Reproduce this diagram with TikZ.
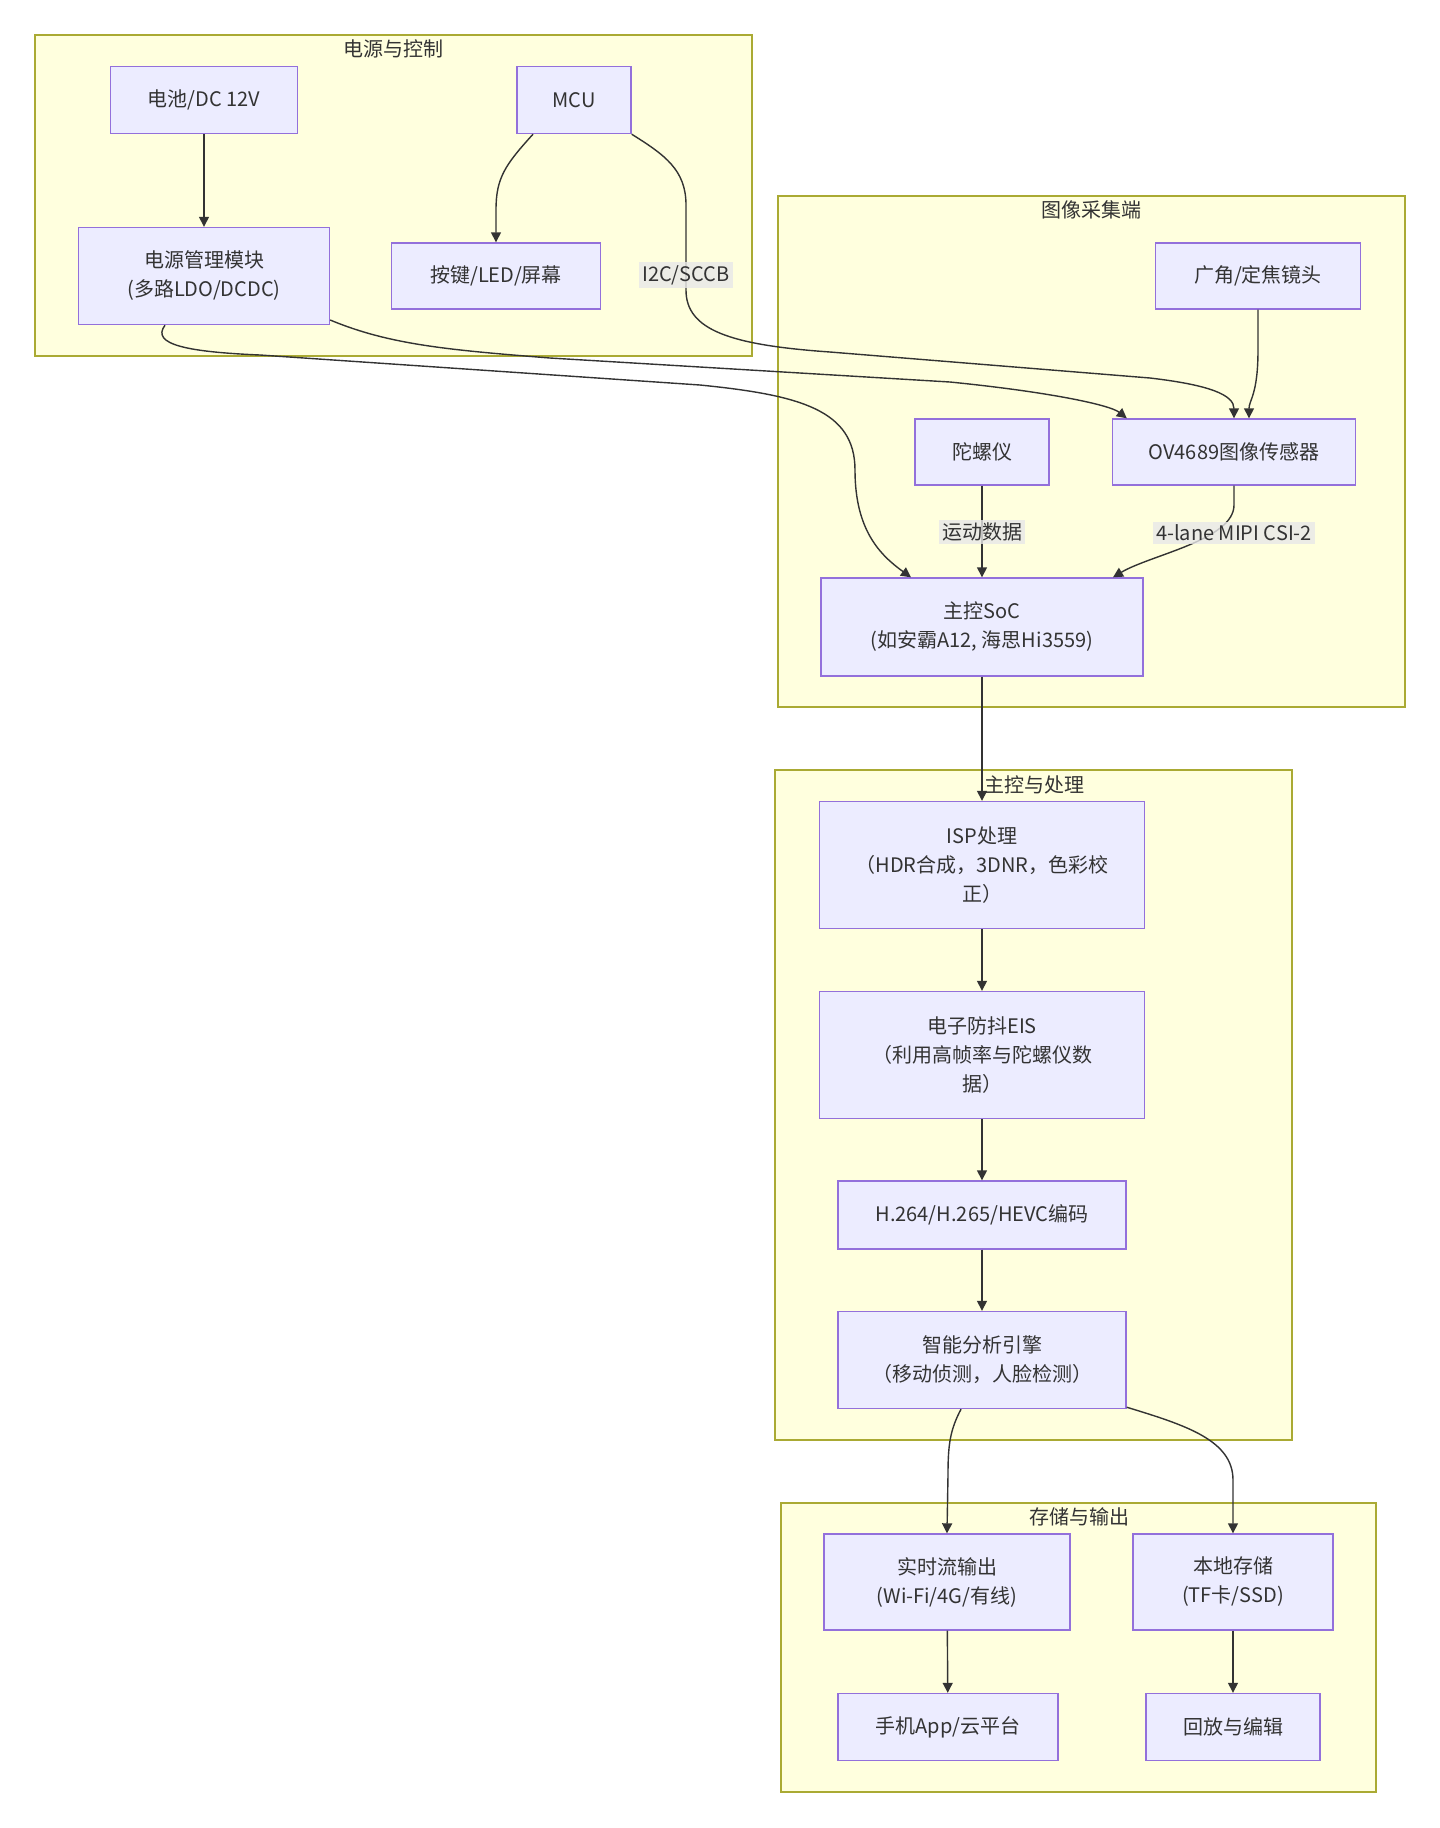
\documentclass[tikz,border=0pt]{standalone}
\usepackage{fontspec}
\setmainfont{Noto Sans CJK SC}
\usetikzlibrary{arrows.meta,calc}
\definecolor{nodefill}{HTML}{ECECFF}
\definecolor{nodeline}{HTML}{9370DB}
\definecolor{clfill}{HTML}{FFFFDE}
\definecolor{clline}{HTML}{AAAA33}
\definecolor{edgecol}{HTML}{333333}
\definecolor{lblfill}{HTML}{E8E8E8}
\begin{document}
\begin{tikzpicture}[x=0.5pt,y=-0.5pt,
  box/.style={draw=nodeline, fill=nodefill, line width=0.7pt, align=center, text=edgecol, inner sep=0pt, font=\fontsize{10pt}{14.5pt}\selectfont},
  cluster/.style={draw=clline, fill=clfill, line width=0.7pt},
  ctitle/.style={text=edgecol, font=\fontsize{10pt}{12pt}\selectfont, inner sep=0pt},
  arr/.style={draw=edgecol, line width=0.7pt, -{Triangle[length=5pt,width=5pt]}},
  elabel/.style={fill=lblfill, fill opacity=0.8, text opacity=1, text=edgecol, inner sep=1.5pt, font=\fontsize{10pt}{12pt}\selectfont},
]
\useasboundingbox[fill=white] (0,0) rectangle (1440,1828);

% clusters
\draw[cluster] (35,35) rectangle (752,356);
\node[ctitle] (t1) at (393,49) {电源与控制};
\draw[cluster] (778,196) rectangle (1405,707);
\node[ctitle] (t2) at (1091,210) {图像采集端};
\draw[cluster] (775,770) rectangle (1292,1440);
\node[ctitle] (t3) at (1034,785) {主控与处理};
\draw[cluster] (781,1503) rectangle (1376,1792);
\node[ctitle] (t4) at (1079,1517) {存储与输出};

% nodes
\node[box, minimum width=93.5pt, minimum height=33.5pt] (bat) at (204,100) {电池/DC 12V};
\node[box, minimum width=57pt, minimum height=33.5pt] (mcu) at (574,100) {MCU};
\node[box, minimum width=125.5pt, minimum height=48.5pt] (pm) at (204,276) {电源管理模块\\(多路LDO/DCDC)};
\node[box, minimum width=104.5pt, minimum height=33pt] (key) at (496,276) {按键/LED/屏幕};
\node[box, minimum width=102.5pt, minimum height=33pt] (lens) at (1258,276) {广角/定焦镜头};
\node[box, minimum width=67pt, minimum height=33pt] (gyro) at (982,452) {陀螺仪};
\node[box, minimum width=121.5pt, minimum height=33pt] (ov) at (1234,452) {OV4689图像传感器};
\node[box, minimum width=161pt, minimum height=49pt] (soc) at (982,627) {主控SoC\\(如安霸A12, 海思Hi3559)};
\node[box, minimum width=162.5pt, minimum height=63.5pt] (isp) at (982,865) {ISP处理\\（HDR合成，3DNR，色彩校\\正）};
\node[box, minimum width=162.5pt, minimum height=63.5pt] (eis) at (982,1055) {电子防抖EIS\\（利用高帧率与陀螺仪数\\据）};
\node[box, minimum width=144pt, minimum height=34pt] (enc) at (982,1215) {H.264/H.265/HEVC编码};
\node[box, minimum width=144pt, minimum height=48.5pt] (ai) at (982,1360) {智能分析引擎\\（移动侦测，人脸检测）};
\node[box, minimum width=123pt, minimum height=48pt] (rt) at (947,1582) {实时流输出\\(Wi-Fi/4G/有线)};
\node[box, minimum width=100pt, minimum height=48pt] (ls) at (1233,1582) {本地存储\\(TF卡/SSD)};
\node[box, minimum width=110pt, minimum height=33.5pt] (app) at (948,1727) {手机App/云平台};
\node[box, minimum width=87pt, minimum height=33.5pt] (pb) at (1233,1727) {回放与编辑};

% edges
\draw[arr] (bat) -- (pm);
\draw[arr] ($(mcu.south)+(-41,0)$) .. controls (505,165) and (496,178) .. (496,210) -- (key.north);
\draw[arr] (mcu.south east) .. controls (665,155) and (686,170) .. (686,205) -- (686,290)
  .. controls (686,330) and (730,345) .. (830,352) -- (1150,378)
  .. controls (1210,385) and (1234,395) .. (ov.north);
\draw[arr] ($(pm.east)+(0,44)$) .. controls (390,345) and (450,350) .. (550,358) -- (950,382)
  .. controls (1050,392) and (1110,405) .. ($(ov.north west)+(15,0)$);
\draw[arr] ($(pm.south)+(-39,0)$) .. controls (150,345) and (190,352) .. (260,355) -- (700,385)
  .. controls (800,395) and (855,410) .. (855,470) .. controls (855,530) and (880,555) .. ($(soc.north)+(-71,0)$);
\draw[arr] (lens.south) -- (1258,350) .. controls (1258,395) and (1249,400) .. ($(ov.north)+(15,0)$);
\draw[arr] (gyro) -- (soc);
\draw[arr] (ov.south) -- (1234,505) .. controls (1234,540) and (1150,555) .. ($(soc.north)+(131,0)$);
\draw[arr] (soc) -- (isp);
\draw[arr] (isp) -- (eis);
\draw[arr] (eis) -- (enc);
\draw[arr] (enc) -- (ai);
\draw[arr] ($(ai.south)+(-21,0)$) .. controls (950,1430) and (948,1445) .. (948,1475) -- (rt.north);
\draw[arr] ($(ai.south east)+(0,-2)$) .. controls (1185,1425) and (1233,1440) .. (1233,1480) -- (ls.north);
\draw[arr] (rt) -- (app);
\draw[arr] (ls) -- (pb);

% edge labels
\node[elabel] (l1) at (686,275) {I2C/SCCB};
\node[elabel] (l2) at (982,532) {运动数据};
\node[elabel] (l3) at (1234,533) {4-lane MIPI CSI-2};
\end{tikzpicture}
\end{document}
